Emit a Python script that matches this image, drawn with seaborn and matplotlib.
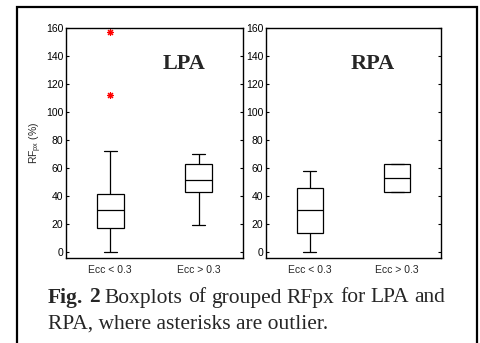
import pandas as pd
import matplotlib
matplotlib.use("Agg")
import matplotlib.pyplot as plt
from matplotlib.patches import Rectangle
import seaborn as sns

# samples per group, chosen to reproduce the box stats
groups = ["Ecc < 0.3", "Ecc > 0.3"]
lpa_low = [0, 8, 14, 17, 22, 27, 30, 34, 38, 41, 72, 112, 157]
lpa_high = [19, 35, 43, 48, 51.5, 57, 63, 67, 70]
rpa_low = [0, 8, 13.5, 22, 30, 38, 45.5, 52, 57.5]
rpa_high = [43, 43, 53, 63, 63]
yticks = [0, 20, 40, 60, 80, 100, 120, 140, 160]

caption_bold = ["Fig.", "2"]
caption_line1 = ["Boxplots", "of", "grouped", "RFpx", "for", "LPA", "and"]
caption_line2 = "RPA, where asterisks are outlier."

def long_df(low, high):
    return pd.DataFrame({
        "group": [groups[0]] * len(low) + [groups[1]] * len(high),
        "RFpx": low + high,
    })

sns.set_style("white")
plt.rcParams["font.family"] = ["Liberation Sans", "DejaVu Sans"]
plt.rcParams["mathtext.fontset"] = "custom"
plt.rcParams["mathtext.rm"] = "Liberation Sans"

W, H = 481, 343
fig = plt.figure(figsize=(W / 100, H / 100), dpi=100)
ax1 = fig.add_axes([66 / W, 85 / H, 177 / W, 230 / H])
ax2 = fig.add_axes([266 / W, 85 / H, 175 / W, 230 / H])

flier = dict(marker=(8, 2, 0), markeredgecolor="red", markerfacecolor="red",
             markersize=5, markeredgewidth=0.8)

for ax, (low, high), name, tx in [(ax1, (lpa_low, lpa_high), "LPA", 0.83),
                                   (ax2, (rpa_low, rpa_high), "RPA", 0.72)]:
    sns.boxplot(data=long_df(low, high), x="group", y="RFpx", ax=ax,
                width=0.3, color="white", linecolor="black", linewidth=0.9,
                whis=1.5, flierprops=flier)
    ax.set_ylim(-4.5, 160)
    ax.set_xlim(-0.5, 1.5)
    ax.set_yticks(yticks)
    ax.set_xlabel("")
    ax.set_ylabel("")
    ax.tick_params(axis="y", direction="in", length=2.5, width=0.8,
                   left=True, right=True, labelsize=7.5, pad=2, colors="black")
    ax.tick_params(axis="x", length=0, labelsize=7.5, pad=5)
    for s in ax.spines.values():
        s.set_visible(True)
        s.set_color("black")
        s.set_linewidth(1.0)
    ax.text(tx, 134, name, ha="center", va="center", fontsize=16,
            fontweight="bold", family=["Liberation Serif", "DejaVu Serif"])

ax1.set_ylabel(r"RF$_{\rm px}$ (%)", fontsize=7.5, labelpad=1)

# caption, first line spread between x=48 and x=445
serif = ["Liberation Serif", "DejaVu Serif"]
fs = 15.5
y1, y2 = 1 - 302.5 / H, 1 - 329 / H
fig.canvas.draw()
r = fig.canvas.get_renderer()
words = [(w, "bold") for w in caption_bold] + [(w, "normal") for w in caption_line1]
texts = [fig.text(0, y1, w, fontsize=fs, fontweight=wt, family=serif,
                  va="baseline", ha="left") for w, wt in words]
widths = [t.get_window_extent(r).width for t in texts]
left, right = 48, 445
gap = (right - left - sum(widths)) / (len(texts) - 1)
x = left
for t, w in zip(texts, widths):
    t.set_x(x / W)
    x += w + gap
fig.text(left / W, y2, caption_line2, fontsize=fs, family=serif,
         va="baseline", ha="left")

# outer frame (runs off the bottom edge)
fig.patches.append(Rectangle((16.5 / W, -0.1), (477 - 16.5) / W, (H - 6.5) / H + 0.1,
                             transform=fig.transFigure, fill=False,
                             ec="black", lw=1.6, clip_on=False))

fig.savefig("out.png", dpi=100)
